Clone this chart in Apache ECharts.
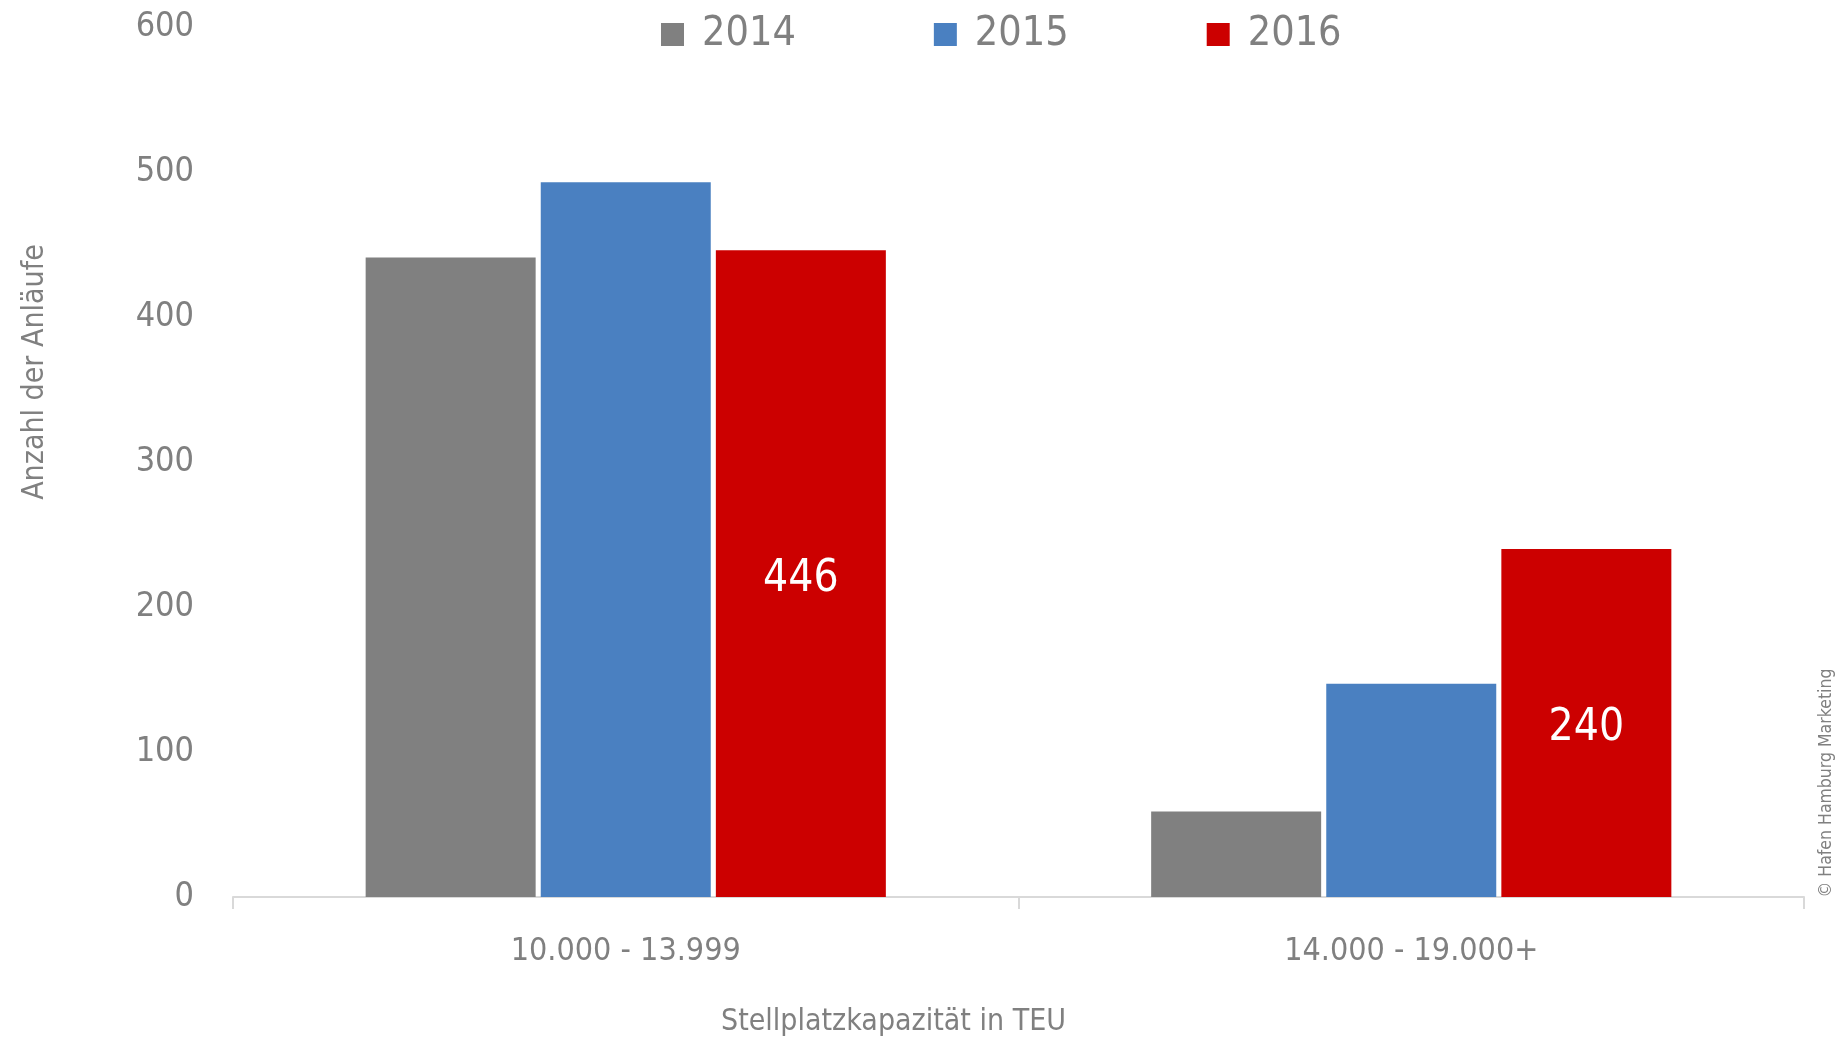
<!DOCTYPE html>
<html>
<head>
<meta charset="utf-8">
<script src="https://cdn.jsdelivr.net/npm/echarts@6/dist/echarts.min.js"></script>
<style>
  html, body { margin: 0; padding: 0; background: #fff; }
  #bar { width: 1839px; height: 1043px; }
</style>
</head>
<body>
<div id="bar"></div>
<script>
  // data
  var categories = ['10.000 - 13.999', '14.000 - 19.000+'];
  var years = ['2014', '2015', '2016'];
  var values2014 = [441, 59];
  var values2015 = [493, 147];
  var values2016 = [446, 240];
  var yTicks = [0, 100, 200, 300, 400, 500, 600];

  var font = '"DejaVu Sans Condensed", "Liberation Sans Narrow", sans-serif';
  var grey = '#808080';

  var myChart = echarts.init(document.getElementById('bar'));

  var option = {
    color: ['#808080', '#4a80c1', '#cc0000'],
    textStyle: { fontFamily: font },
    legend: {
      data: years,
      left: 656,
      top: 9,
      itemWidth: 23,
      itemHeight: 23,
      itemGap: 138,
      icon: 'rect',
      textStyle: { fontFamily: font, fontSize: 41, color: grey, padding: [0, 0, 0, 13] }
    },
    grid: { left: 233, right: 35, top: 27, bottom: 146, containLabel: false, outerBoundsMode: 'none' },
    xAxis: {
      type: 'category',
      data: categories,
      axisLine: { lineStyle: { color: '#d9d9d9', width: 2 } },
      axisTick: { show: true, length: 12, lineStyle: { color: '#d9d9d9', width: 2 } },
      axisLabel: { fontFamily: font, fontSize: 32, color: grey, margin: 39 },
      name: 'Stellplatzkapazität in TEU',
      nameLocation: 'middle',
      nameGap: 110,
      nameTextStyle: { fontFamily: font, fontSize: 30, color: grey, padding: [0, 250, 0, 0] }
    },
    yAxis: {
      type: 'value',
      min: yTicks[0],
      max: yTicks[yTicks.length - 1],
      interval: 100,
      splitLine: { show: false },
      axisLine: { show: false },
      axisTick: { show: false },
      axisLabel: { fontFamily: font, fontSize: 34, color: grey, margin: 39 }
    },
    graphic: [{
      // y axis title
      type: 'text',
      x: 35,
      y: 372,
      rotation: Math.PI / 2,
      style: {
        text: 'Anzahl der Anläufe', fontFamily: font, fontSize: 30, fill: grey,
        align: 'center', verticalAlign: 'middle'
      }
    }, {
      type: 'text',
      x: 1826,
      y: 783,
      rotation: Math.PI / 2,
      style: {
        text: '© Hafen Hamburg Marketing', fontFamily: font, fontSize: 17.5, fill: grey,
        align: 'center', verticalAlign: 'middle'
      }
    }],
    series: [
      { name: years[0], type: 'bar', data: values2014, barWidth: 170, barGap: '3%' },
      { name: years[1], type: 'bar', data: values2015, barWidth: 170, barGap: '3%' },
      {
        name: years[2], type: 'bar', data: values2016, barWidth: 170, barGap: '3%',
        label: { show: true, position: 'inside', offset: [0, 6], color: '#fff', fontFamily: font, fontSize: 44 }
      }
    ]
  };

  myChart.setOption(option);
</script>
</body>
</html>
